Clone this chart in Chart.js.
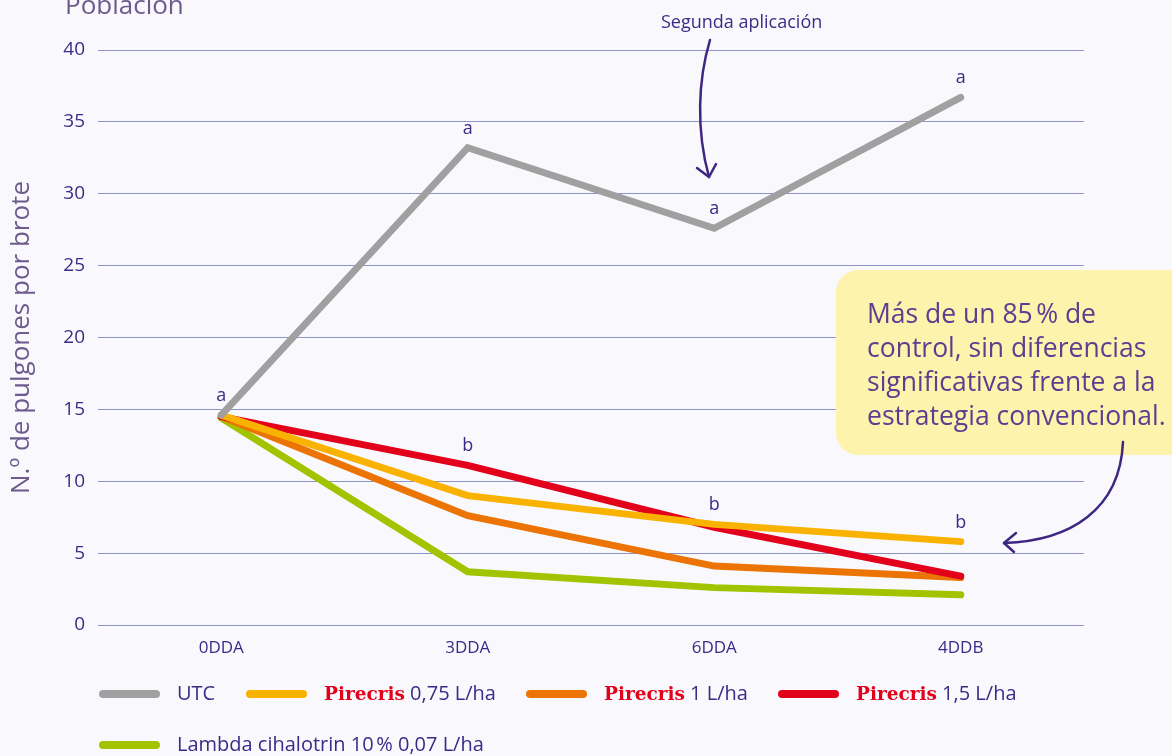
<!DOCTYPE html>
<html>
<head>
<meta charset="utf-8">
<script src="https://cdn.jsdelivr.net/npm/chart.js@4.4.1/dist/chart.umd.min.js"></script>
<style>
  html, body { margin: 0; padding: 0; background: #f9f9fd; }
  #wrap { position: relative; width: 1172px; height: 756px; overflow: hidden; }
  #chart { position: absolute; left: 0; top: 0; }
  .leg { position: absolute; height: 24px; font: 20px "Open Sans", sans-serif; color: #3d2a87; white-space: nowrap; }
  .leg .sw { position: absolute; left: 0; top: 8px; width: 61px; height: 8px; border-radius: 4px; }
  .leg .tx { position: absolute; left: 78px; top: -3px; }
  .leg b { font-family: "DejaVu Serif", serif; font-weight: bold; color: #e2001a; font-size: 18.5px; }
</style>
</head>
<body>
<div id="wrap">
  <canvas id="chart" width="1172" height="756"></canvas>
  <div id="legend"></div>
</div>
<script>
const categories = ['0DDA', '3DDA', '6DDA', '4DDB'];
const utc = [14.6, 33.2, 27.6, 36.7];
const pirecris075 = [14.6, 9.0, 7.0, 5.8];
const pirecris1 = [14.5, 7.6, 4.1, 3.3];
const pirecris15 = [14.5, 11.1, 6.8, 3.4];
const lambda = [14.4, 3.7, 2.6, 2.1];
const yTicks = [0, 5, 10, 15, 20, 25, 30, 35, 40];
const lettersA = ['a', 'a', 'a', 'a'];
const lettersB = ['', 'b', 'b', 'b'];

const series = [
  { label: 'UTC', brand: '', data: utc, color: '#a0a0a0', order: 0 },
  { label: '0,75 L/ha', brand: 'Pirecris', data: pirecris075, color: '#f9b200', order: 1 },
  { label: '1 L/ha', brand: 'Pirecris', data: pirecris1, color: '#ec7404', order: 3 },
  { label: '1,5 L/ha', brand: 'Pirecris', data: pirecris15, color: '#e2001a', order: 2 },
  { label: 'Lambda cihalotrin 10\u202f% 0,07 L/ha', brand: '', data: lambda, color: '#a2c300', order: 4 }
];

const textColor = '#3d2a87';
const mutedColor = '#6d5b8e';

// letters over points, arrows, note box
const annotations = {
  id: 'annotations',
  afterDatasetsDraw(chart) {
    const { ctx, scales: { x, y } } = chart;
    ctx.save();
    ctx.fillStyle = textColor;
    ctx.font = '18px "Open Sans", sans-serif';
    ctx.textAlign = 'center';
    ctx.textBaseline = 'alphabetic';
    categories.forEach((c, i) => {
      ctx.fillText(lettersA[i], x.getPixelForValue(i), y.getPixelForValue(utc[i]) - 14);
      if (lettersB[i]) {
        const top = Math.max(pirecris075[i], pirecris15[i]);
        ctx.fillText(lettersB[i], x.getPixelForValue(i), y.getPixelForValue(top) - 14);
      }
    });

    // title
    ctx.fillStyle = mutedColor;
    ctx.textAlign = 'left';
    ctx.font = '26px "Open Sans", sans-serif';
    ctx.fillText('Población', 65, 14);

    // segunda aplicación
    ctx.fillStyle = textColor;
    ctx.font = '18px "Open Sans", sans-serif';
    ctx.fillText('Segunda aplicación', 661, 28, 163);

    ctx.strokeStyle = '#3f2680';
    ctx.lineWidth = 2.5;
    ctx.lineCap = 'round';
    ctx.lineJoin = 'round';
    ctx.beginPath();
    ctx.moveTo(710, 40);
    ctx.bezierCurveTo(698, 80, 696, 130, 709, 177);
    ctx.stroke();
    ctx.beginPath();
    ctx.moveTo(697, 168);
    ctx.lineTo(709, 177);
    ctx.lineTo(716, 164);
    ctx.stroke();

    // note box
    ctx.fillStyle = '#fdf3ad';
    ctx.beginPath();
    ctx.roundRect(836, 270, 360, 185, 22);
    ctx.fill();
    ctx.fillStyle = '#5b3e8f';
    ctx.font = '26.5px "Open Sans", sans-serif';
    const lines = ['Más de un 85\u202f% de', 'control, sin diferencias', 'significativas frente a la', 'estrategia convencional.'];
    const widths = [229, 282, 292, 300];
    lines.forEach((t, i) => ctx.fillText(t, 867, 323 + i * 34, widths[i]));

    ctx.strokeStyle = '#3f2680';
    ctx.beginPath();
    ctx.moveTo(1123, 442);
    ctx.bezierCurveTo(1120, 510, 1070, 541, 1004, 543);
    ctx.stroke();
    ctx.beginPath();
    ctx.moveTo(1016, 533);
    ctx.lineTo(1004, 543);
    ctx.lineTo(1014, 552);
    ctx.stroke();
    ctx.restore();
  }
};

new Chart(document.getElementById('chart'), {
  type: 'line',
  data: {
    labels: categories,
    datasets: series.map(s => ({
      label: s.brand ? s.brand + ' ' + s.label : s.label,
      data: s.data,
      borderColor: s.color,
      backgroundColor: s.color,
      borderWidth: 7,
      borderCapStyle: 'round',
      borderJoinStyle: 'miter',
      pointRadius: 0,
      tension: 0,
      order: s.order
    }))
  },
  options: {
    responsive: false,
    animation: false,
    events: [],
    layout: { padding: { left: 0, right: 88, top: 50, bottom: 0 } },
    plugins: { legend: { display: false }, tooltip: { enabled: false } },
    scales: {
      x: {
        offset: true,
        grid: { display: false, drawTicks: false },
        border: { display: false },
        ticks: { color: textColor, font: { family: 'Open Sans', size: 17 }, padding: 13 },
        afterFit(scale) { scale.height = 131; }
      },
      y: {
        min: 0,
        max: 40,
        afterBuildTicks(scale) { scale.ticks = yTicks.map(v => ({ value: v })); },
        grid: { color: '#8e93c9', lineWidth: 1, drawTicks: false },
        border: { display: false },
        ticks: { color: textColor, font: { family: 'Open Sans', size: 19 }, padding: 13 },
        title: {
          display: true,
          text: 'N.º de pulgones por brote',
          color: mutedColor,
          font: { family: 'Open Sans', size: 26 },
          padding: { top: 6, bottom: 0 }
        },
        afterFit(scale) { scale.width = 98; }
      }
    }
  },
  plugins: [annotations]
});

// legend (mixed styling of brand names)
const legendPos = [[99, 682], [246, 682], [526, 682], [778, 682], [99, 733]];
const legendEl = document.getElementById('legend');
series.forEach((s, i) => {
  const d = document.createElement('div');
  d.className = 'leg';
  d.style.left = legendPos[i][0] + 'px';
  d.style.top = legendPos[i][1] + 'px';
  d.innerHTML = '<span class="sw" style="background:' + s.color + '"></span><span class="tx">' +
    (s.brand ? '<b>' + s.brand + '</b> ' : '') + s.label + '</span>';
  legendEl.appendChild(d);
});
</script>
</body>
</html>
